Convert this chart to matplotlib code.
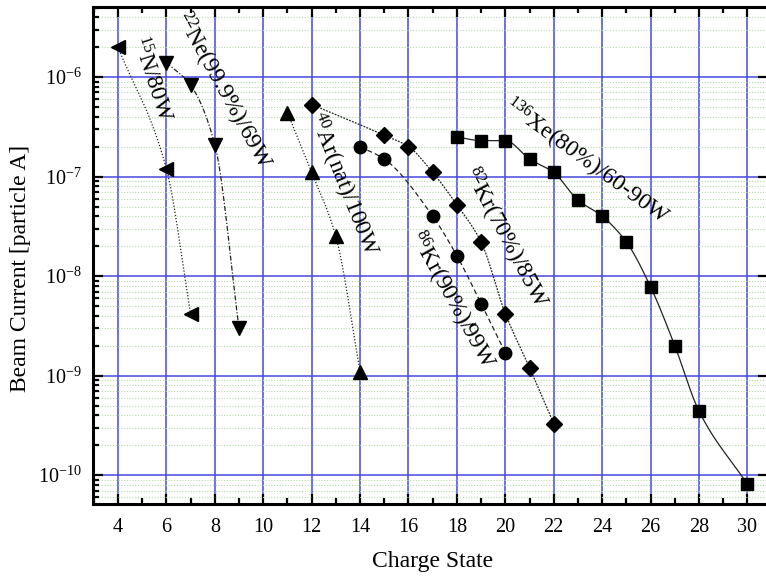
import numpy as np
import matplotlib
matplotlib.use("Agg")
import matplotlib.pyplot as plt
from matplotlib.ticker import MultipleLocator, FixedLocator, NullFormatter

plt.rcParams["font.family"] = ["Liberation Serif", "DejaVu Serif"]
plt.rcParams["mathtext.fontset"] = "custom"
plt.rcParams["mathtext.rm"] = "Liberation Serif"
plt.rcParams["mathtext.it"] = "Liberation Serif:italic"
plt.rcParams["mathtext.bf"] = "Liberation Serif:bold"

# charge states and beam currents (particle A) for each ion
n15_q = [4, 6, 7]
n15_i = [2.0e-6, 1.2e-7, 4.2e-9]

ne22_q = [6, 7, 8, 9]
ne22_i = [1.4e-6, 8.3e-7, 2.1e-7, 3.0e-9]

ar40_q = [11, 12, 13, 14]
ar40_i = [4.4e-7, 1.1e-7, 2.5e-8, 1.1e-9]

kr82_q = [12, 15, 16, 17, 18, 19, 20, 21, 22]
kr82_i = [5.3e-7, 2.6e-7, 2.0e-7, 1.1e-7, 5.2e-8, 2.2e-8, 4.2e-9, 1.2e-9, 3.3e-10]

kr86_q = [14, 15, 17, 18, 19, 20]
kr86_i = [2.0e-7, 1.5e-7, 4.0e-8, 1.6e-8, 5.3e-9, 1.7e-9]

xe136_q = [18, 19, 20, 21, 22, 23, 24, 25, 26, 27, 28, 30]
xe136_i = [2.5e-7, 2.3e-7, 2.3e-7, 1.5e-7, 1.1e-7, 5.8e-8, 4.0e-8, 2.2e-8,
           7.8e-9, 2.0e-9, 4.4e-10, 8.1e-11]

decades = [-10, -9, -8, -7, -6]


def smooth(x, y, num=200):
    # monotone cubic (PCHIP) through the points, done in log space
    x = np.asarray(x, float)
    ly = np.log10(y)
    h = np.diff(x)
    d = np.diff(ly) / h
    m = np.zeros_like(ly)
    m[0], m[-1] = d[0], d[-1]
    for k in range(1, len(x) - 1):
        if d[k - 1] * d[k] > 0:
            w1 = 2 * h[k] + h[k - 1]
            w2 = h[k] + 2 * h[k - 1]
            m[k] = (w1 + w2) / (w1 / d[k - 1] + w2 / d[k])
    xs = np.linspace(x[0], x[-1], num)
    idx = np.clip(np.searchsorted(x, xs) - 1, 0, len(x) - 2)
    t = (xs - x[idx]) / h[idx]
    h00 = 2 * t**3 - 3 * t**2 + 1
    h10 = t**3 - 2 * t**2 + t
    h01 = -2 * t**3 + 3 * t**2
    h11 = t**3 - t**2
    ys = (h00 * ly[idx] + h10 * h[idx] * m[idx]
          + h01 * ly[idx + 1] + h11 * h[idx] * m[idx + 1])
    return xs, 10**ys


fig = plt.figure(figsize=(7.66, 5.79), dpi=100)
ax = fig.add_axes([93 / 766, 75 / 579, 675 / 766, 497 / 579])

series = [
    (n15_q, n15_i, "<", (0, (1, 1.5)), 10),
    (ne22_q, ne22_i, "v", (0, (4, 1.5, 1, 1.5)), 10),
    (ar40_q, ar40_i, "^", (0, (1, 1.5)), 10),
    (kr82_q, kr82_i, "D", (0, (1.5, 1)), 8),
    (kr86_q, kr86_i, "o", (0, (4, 2.5)), 9),
    (xe136_q, xe136_i, "s", "-", 8.5),
]
for q, cur, mk, ls, ms in series:
    xs, ys = smooth(q, cur)
    ax.plot(xs, ys, color="#222222", lw=0.9, ls=ls, zorder=3)
    ax.plot(q, cur, ls="none", marker=mk, ms=ms, color="black", zorder=4)

ax.set_yscale("log")
ax.set_xlim(2.97, 30.85)
ax.set_ylim(10**-10.29, 10**-5.296)

ax.xaxis.set_major_locator(MultipleLocator(2))
ax.xaxis.set_minor_locator(MultipleLocator(1))
major_y = [10.0**e for e in decades]
minor_y = [s * 10.0**e for e in [-11] + decades for s in range(2, 10)]
ax.yaxis.set_major_locator(FixedLocator(major_y))
ax.yaxis.set_major_formatter(plt.FuncFormatter(
    lambda v, pos: r"$10^{%d}$" % round(np.log10(v))))
ax.yaxis.set_minor_locator(FixedLocator(minor_y))
ax.yaxis.set_minor_formatter(NullFormatter())

ax.grid(which="major", color="#4848e0", lw=1.1, zorder=1)
ax.grid(which="minor", axis="y", color="#b4dcaa", lw=0.8, ls=(0, (1, 1.5)), zorder=0)
ax.set_axisbelow(True)

for sp in ax.spines.values():
    sp.set_linewidth(2.2)
ax.tick_params(which="both", direction="in", width=1.6, labelsize=14.5,
               top=True, right=True, color="black")
ax.tick_params(which="major", length=7, pad=8)
ax.tick_params(which="minor", length=4, right=False)
ax.tick_params(axis="x", which="major", pad=10)

fig.text(433 / 766, 1 - 561 / 579, "Charge State", fontsize=17,
         ha="center", va="center")
fig.text(21 / 766, 1 - 268 / 579, "Beam Current [particle A]", fontsize=17,
         rotation=90, ha="center", va="center")

# ion source labels along the curves
labels = [
    (5.40, 9.5e-7, "$^{15}$N/80W", -72),
    (8.35, 7.2e-7, "$^{22}$Ne(99.9%)/69W", -61),
    (13.29, 8.2e-8, "$^{40}$Ar(nat)/100W", -68),
    (20.0, 2.4e-8, "$^{82}$Kr(70%)/85W", -62),
    (17.78, 5.7e-9, "$^{86}$Kr(90%)/99W", -61),
    (23.35, 1.40e-7, "$^{136}$Xe(80%)/60-90W", -36),
]
for x, y, txt, rot in labels:
    ax.text(x, y, txt, fontsize=17, rotation=rot, rotation_mode="anchor",
            ha="center", va="center", zorder=5)

fig.savefig("out.png", dpi=100)
